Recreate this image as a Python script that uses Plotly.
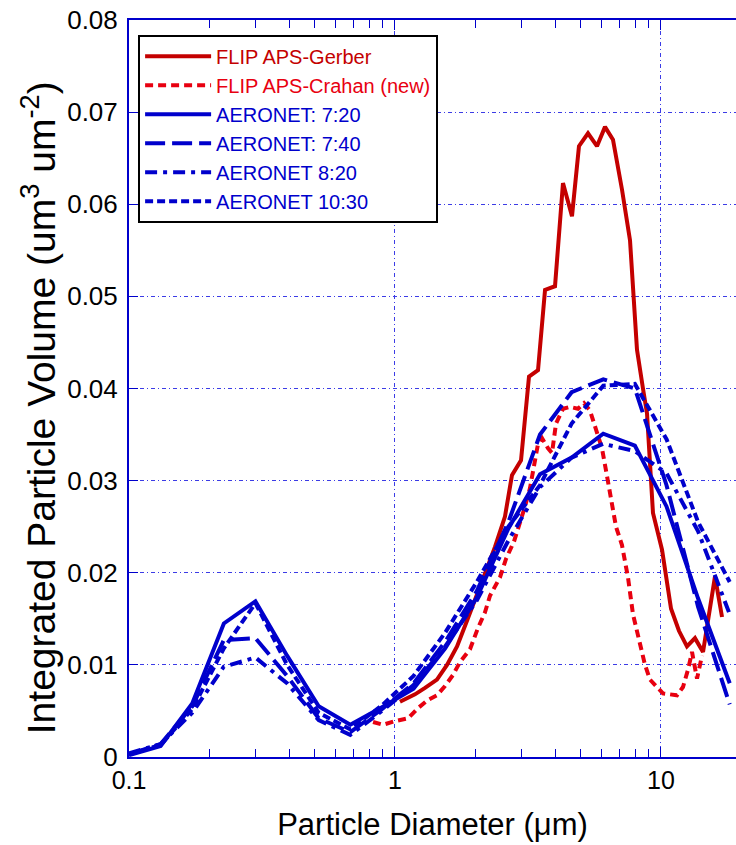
import plotly.graph_objects as go

# AERONET size bins (particle diameter, um)
aero_d = [0.1, 0.1315, 0.1729, 0.2273, 0.2988, 0.3929, 0.5166, 0.6792, 0.893, 1.174,
          1.544, 2.030, 2.669, 3.509, 4.614, 6.066, 7.976, 10.49, 13.79, 18.13]
v_720 = [0.0002, 0.0012, 0.0058, 0.0145, 0.0169, 0.0110, 0.0055, 0.0035, 0.0054, 0.0074,
         0.0118, 0.0173, 0.0248, 0.0307, 0.0325, 0.0351, 0.0338, 0.0272, 0.0172, 0.0080]
v_740 = [0.0003, 0.0014, 0.0055, 0.0127, 0.0129, 0.0088, 0.0042, 0.0027, 0.0052, 0.0080,
         0.0125, 0.0180, 0.0255, 0.0350, 0.0396, 0.0410, 0.0400, 0.0295, 0.0163, 0.0057]
v_820 = [0.0004, 0.0014, 0.0048, 0.0098, 0.0108, 0.0080, 0.0040, 0.0024, 0.0050, 0.0078,
         0.0120, 0.0170, 0.0235, 0.0293, 0.0325, 0.0340, 0.0332, 0.0308, 0.0245, 0.0155]
v_1030 = [0.0003, 0.0013, 0.0052, 0.0118, 0.0167, 0.0100, 0.0048, 0.0030, 0.0056, 0.0088,
          0.0135, 0.0190, 0.0250, 0.0295, 0.0362, 0.0403, 0.0405, 0.0345, 0.0255, 0.0190]

gerber_d = [1.044, 1.189, 1.297, 1.438, 1.569, 1.711, 1.865, 2.034, 2.218, 2.376,
            2.591, 2.753, 2.977, 3.190, 3.449, 3.665, 3.996, 4.281, 4.628, 4.917,
            5.316, 5.746, 6.159, 6.600, 7.134, 7.647, 8.125, 8.556, 8.860, 9.330,
            10.09, 10.91, 11.68, 12.52, 13.42, 14.39, 15.96, 16.96]
gerber_v = [0.0060, 0.0068, 0.0075, 0.0084, 0.0100, 0.0120, 0.0148, 0.0178, 0.0205, 0.0228,
            0.0261, 0.0306, 0.0322, 0.0413, 0.0420, 0.0507, 0.0511, 0.0623, 0.0587, 0.0663,
            0.0677, 0.0663, 0.0684, 0.0670, 0.0616, 0.0561, 0.0442, 0.0400, 0.0373, 0.0265,
            0.0225, 0.0161, 0.0137, 0.0120, 0.0129, 0.0114, 0.0196, 0.0152]

crahan_d = [0.827, 0.901, 1.0, 1.119, 1.220, 1.331, 1.438, 1.542, 1.652, 1.755,
            1.914, 2.051, 2.179, 2.276, 2.481, 2.614, 2.802, 2.926, 3.082, 3.218,
            3.360, 3.449, 3.571, 3.761, 3.893, 4.030, 4.281, 4.548, 4.875, 5.135,
            5.409, 5.648, 6.001, 6.266, 6.544, 6.774, 7.134, 7.514, 7.847, 8.339,
            8.707, 9.093, 9.661, 10.17, 10.81, 11.49, 12.10, 12.64, 13.08, 13.66, 14.26]
crahan_v = [0.0038, 0.0035, 0.0039, 0.0042, 0.0053, 0.0062, 0.0067, 0.0077, 0.0089, 0.0103,
            0.0117, 0.0140, 0.0157, 0.0175, 0.0195, 0.0215, 0.0234, 0.0250, 0.0272, 0.0292,
            0.0325, 0.0340, 0.0346, 0.0335, 0.0330, 0.0362, 0.0378, 0.0380, 0.0378, 0.0384,
            0.0376, 0.0358, 0.0335, 0.0305, 0.0275, 0.0250, 0.0230, 0.0195, 0.0155, 0.0124,
            0.0100, 0.0084, 0.0076, 0.0069, 0.0068, 0.0067, 0.0076, 0.0095, 0.0114, 0.0085, 0.0110]

y_tickvals = [0, 0.01, 0.02, 0.03, 0.04, 0.05, 0.06, 0.07, 0.08]
y_ticktext = ["0", "0.01", "0.02", "0.03", "0.04", "0.05", "0.06", "0.07", "0.08"]
x_tickvals = [0.1, 1, 10]
x_ticktext = ["0.1", "1", "10"]
x_minor = [0.2, 0.3, 0.4, 0.5, 0.6, 0.7, 0.8, 0.9, 2, 3, 4, 5, 6, 7, 8, 9]

RED_DARK = "#c40000"
RED = "#e80010"
BLUE = "#0000cc"
GRID = "#3c3ce6"
FONT = "Liberation Sans"

def lab(text, color):
    return '<span style="color:%s">%s</span>' % (color, text)

fig = go.Figure()
fig.add_trace(go.Scatter(x=gerber_d, y=gerber_v, mode="lines", name=lab("FLIP APS-Gerber", RED_DARK),
                         line=dict(color=RED_DARK, width=4)))
fig.add_trace(go.Scatter(x=crahan_d, y=crahan_v, mode="lines", name=lab("FLIP APS-Crahan (new)", RED),
                         line=dict(color=RED, width=4, dash="8px,5px")))
fig.add_trace(go.Scatter(x=aero_d, y=v_720, mode="lines", name=lab("AERONET: 7:20", BLUE),
                         line=dict(color=BLUE, width=4)))
fig.add_trace(go.Scatter(x=aero_d, y=v_740, mode="lines", name=lab("AERONET: 7:40", BLUE),
                         line=dict(color=BLUE, width=4, dash="20px,7px")))
fig.add_trace(go.Scatter(x=aero_d, y=v_820, mode="lines", name=lab("AERONET 8:20", BLUE),
                         line=dict(color=BLUE, width=4, dash="12px,6px,4px,6px")))
fig.add_trace(go.Scatter(x=aero_d, y=v_1030, mode="lines", name=lab("AERONET 10:30", BLUE),
                         line=dict(color=BLUE, width=4, dash="8px,4px")))

fig.update_layout(
    width=736, height=845,
    margin=dict(l=129, r=0, t=20, b=88),
    paper_bgcolor="white", plot_bgcolor="white",
    font=dict(family=FONT, color="black"),
    showlegend=True,
    legend=dict(x=0.015, y=0.98, xanchor="left", yanchor="top",
                bgcolor="white", bordercolor="black", borderwidth=2,
                font=dict(family=FONT, size=20), tracegroupgap=0, itemwidth=66),
    hovermode=False,
    annotations=[dict(text="Integrated Particle Volume (um<sup>3</sup> um<sup>-2</sup>)",
                      xref="paper", yref="paper", x=-0.149, y=0.474,
                      xanchor="center", yanchor="middle", textangle=-90, showarrow=False,
                      font=dict(family=FONT, size=39, color="black"))],
)
fig.update_xaxes(
    type="log", range=[-1, 1.282], automargin=False,
    tickvals=x_tickvals, ticktext=x_ticktext,
    tickfont=dict(family=FONT, size=25, color="black"),
    ticks="inside", ticklen=10, tickcolor=BLUE, tickwidth=1,
    minor=dict(tickvals=x_minor, ticks="inside", ticklen=8, tickcolor=BLUE, tickwidth=1, showgrid=False),
    showline=True, linecolor=BLUE, linewidth=2, mirror="ticks",
    showgrid=True, gridcolor=GRID, griddash="4px,3px,1px,3px", gridwidth=1,
    zeroline=False,
    title=dict(text="Particle Diameter (\u03bcm)", font=dict(family=FONT, size=31, color="black"), standoff=20),
)
fig.update_yaxes(
    range=[0, 0.08], automargin=False,
    tickvals=y_tickvals, ticktext=y_ticktext,
    tickfont=dict(family=FONT, size=26, color="black"),
    ticks="inside", ticklen=9, tickcolor=BLUE, tickwidth=1,
    ticklabelstandoff=4, ticklabeloverflow="allow",
    showline=True, linecolor=BLUE, linewidth=2,
    showgrid=True, gridcolor=GRID, griddash="4px,3px,1px,3px", gridwidth=1,
    zeroline=False,
)

# remove the browser's default 8px body margin so the figure fills the window exactly
fig.write_html("out.html",
               config={"displayModeBar": False},
               post_script="document.body.style.margin='0px';document.body.style.overflow='hidden';")
